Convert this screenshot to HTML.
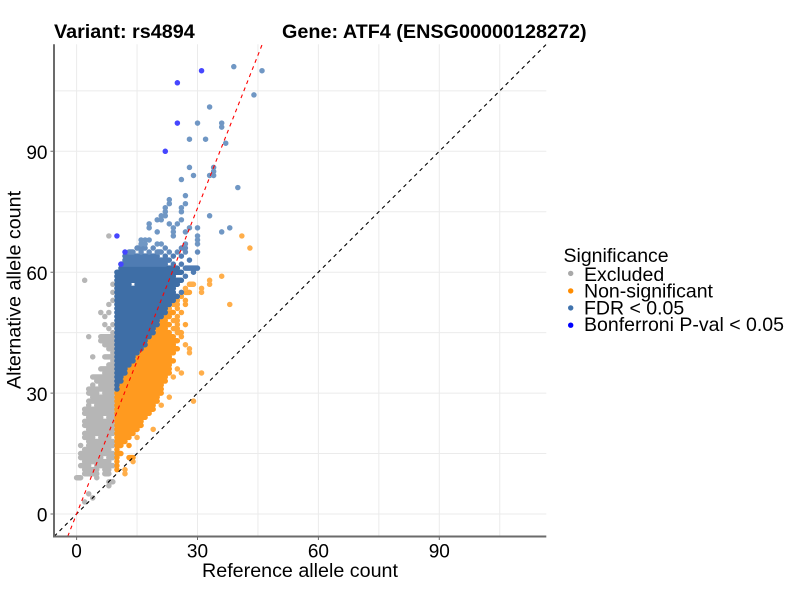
<!DOCTYPE html>
<html>
<head>
<meta charset="utf-8">
<style>
html,body{margin:0;padding:0;background:#fff;}
svg{display:block;}
text{font-family:"Liberation Sans",Arial,sans-serif;fill:#000;}
</style>
</head>
<body>
<svg width="800" height="600" viewBox="0 0 800 600" xmlns="http://www.w3.org/2000/svg">
<rect width="800" height="600" fill="#fff"/>
<!-- grid -->
<g stroke="#ebebeb" stroke-width="1" fill="none">
<path d="M76.6 44.3V536.3M137.05 44.3V536.3M197.5 44.3V536.3M257.95 44.3V536.3M318.4 44.3V536.3M378.85 44.3V536.3M439.3 44.3V536.3M499.75 44.3V536.3"/>
<path d="M54 514H546.3M54 453.55H546.3M54 393.1H546.3M54 332.65H546.3M54 272.2H546.3M54 211.75H546.3M54 151.3H546.3M54 90.85H546.3"/>
</g>
<!-- points -->
<g transform="translate(76.6 514) scale(4.03 -4.03)" fill="none" stroke-linecap="round" stroke-width="1.36">
<path stroke="#b6b6b6" d="M8 69h.01M2 58h.01M9 57h.01M9 55h.01M9 53h.01M8 52h.01M6 50h.01M8 50h.01M7 49h.01M7 47h.01M9 47h.01M8 46h.01M9 45h.01M3 44h.01M6 44H9M6 43H9M7 42H9M8 41H9M9 40h.01M4 39h.01M7 39H9M9 38h.01M8 37H9M6 36H9M7 35H9M4 34H9M5 33H9M4 32h.01M6 32H9M3 31H9M3 30H5M7 30H9M4 29H9M3 28H9M3 27h.01M5 27H9M2 26H9M2 25H9M3 24H6M8 24H9M2 23H9M2 22H9M3 21H9M2 20H9M2 19H4M6 19H8M3 18H9M1 17h.01M3 17H9M2 16H8M1 15H9M1 14H6M8 14H9M2 13H8M1 12H3M5 12H9M2 11H5M7 11H8M2 10H5M7 10H8M0 9H1M5 9h.01M8 8H9M8 7h.01M3 5h.01M4 4h.01M2 3h.01"/>
<path stroke="#ff9a1f" d="M10 11h.01M10 12h.01M10 13h.01M10 14h.01M13 14H14M10 15H11M10 16h.01M10 17H11M13 17h.01M10 18H12M10 19H13M10 20H14M10 21H15M10 22H16M10 23H16M10 24H17M10 25H18M10 26H19M10 27H19M10 28H20M10 29H20M10 30H21M11 31H21M11 32H21M12 33H22M12 34H22M13 35H23M13 36H23M14 37H23M15 38H24M15 39H23M16 40H24M17 41H25M18 42H24M18 43H25M19 44H24M20 45H23M20 46H22M21 47H23M21 48H22M22 49H23M23 50H24"/>
<path stroke="#ffa638" d="M26 44h.01M25 45H26M24 46H25M25 47h.01M27 47h.01M24 48H25M25 49h.01M26 50h.01M23 51h.01M25 51h.01M24 52H25M27 52h.01M25 53h.01M27 53h.01M26 54h.01M27 55H28"/>
<path stroke="#ffae4a" d="M12 10h.01M12 11h.01M14 13h.01M15 19h.01M19 21h.01M21 27h.01M29 28h.01M23 29h.01M24 34h.01M26 35h.01M31 35h.01M25 36h.01M28 40h.01M28 41h.01M27 42h.01M38 52h.01M31 55h.01M27 56h.01M31 56h.01M28 57H29M33 57h.01M33 58h.01M36 59h.01M43 66h.01M41 69h.01"/>
<path stroke="#3e6ea6" d="M10 31h.01M10 32h.01M10 33H11M10 34H11M10 35H12M10 36H12M10 37H13M10 38H14M10 39H14M10 40H15M10 41H16M10 42H17M10 43H17M10 44H18M10 45H19M10 46H19M10 47H20M10 48H20M10 49H21M10 50H22M10 51H22M10 52H23M10 53H24M10 54H25M10 55H24M10 56H24M10 57H13M15 57H25M10 58H26M10 59H24M10 60H26M11 61H25"/>
<path stroke="#4f7cb3" d="M26 55h.01M27 59h.01M29 60h.01M27 61H30M11 62H22M24 62h.01M26 62h.01M12 63H23M28 63h.01M12 64H20M22 64h.01M24 64h.01M26 64h.01"/>
<path stroke="#648cbd" d="M13 65H14M16 65h.01M18 65h.01M20 65H21M23 65h.01M25 65h.01M27 65h.01M30 65h.01M15 66H17M19 66h.01M22 66h.01M26 66H27"/>
<path stroke="#7097c4" d="M46 110h.01M39 111h.01M44 104h.01M33 101h.01M30 97h.01M36 97h.01M36 96h.01M28 93h.01M32 93h.01M37 92h.01M28 86h.01M34 86h.01M34 85h.01M29 84h.01M33 84h.01M34 84h.01M26 83h.01M40 81h.01M27 79h.01M23 78h.01M23 77h.01M27 77h.01M26 76h.01M22 76h.01M26 75h.01M22 75h.01M21 74h.01M22 74h.01M33 74h.01M20 73h.01M21 73h.01M26 73h.01M18 72h.01M23 72h.01M25 72h.01M18 71h.01M24 71h.01M28 71h.01M30 71h.01M38 71h.01M20 70h.01M24 70h.01M27 70h.01M36 70h.01M24 69h.01M30 69h.01M30 68h.01M30 67h.01M16 68h.01M17 68h.01M18 68h.01M16 67h.01M17 67h.01M20 67h.01M21 67h.01M27 67h.01"/>
<path stroke="#4646ff" d="M31 110h.01M25 107h.01M25 97h.01M22 90h.01M10 69h.01M12 65h.01M11 62h.01"/>
</g>
<!-- reference lines -->
<line x1="54.2" y1="536.3" x2="546.3" y2="44.3" stroke="#000" stroke-width="1.1" stroke-dasharray="3.8 3.8"/>
<line x1="67.76" y1="536.3" x2="262.25" y2="44.3" stroke="#ff0000" stroke-width="1.1" stroke-dasharray="3.8 3.8"/>
<!-- axes -->
<g stroke="#6b6b6b" fill="none">
<path d="M54 44.3V537.5M53 536.5H546.3" stroke-width="2"/>
<path d="M50.5 514H54M50.5 393.1H54M50.5 272.2H54M50.5 151.3H54M76.6 537V540M197.5 537V540M318.4 537V540M439.3 537V540" stroke-width="1"/>
</g>
<!-- tick labels -->
<g font-size="19" text-anchor="end">
<text x="47.5" y="521.7">0</text>
<text x="47.5" y="400.8">30</text>
<text x="47.5" y="279.9">60</text>
<text x="47.5" y="159">90</text>
</g>
<g font-size="19" text-anchor="middle">
<text x="76.6" y="557.3">0</text>
<text x="197.5" y="557.3">30</text>
<text x="318.4" y="557.3">60</text>
<text x="439.3" y="557.3">90</text>
</g>
<!-- axis titles -->
<text x="300" y="577" font-size="19.7" text-anchor="middle">Reference allele count</text>
<text transform="translate(20.5 290) rotate(-90)" font-size="19.7" text-anchor="middle">Alternative allele count</text>
<!-- title -->
<text x="54" y="38" font-size="19.8" font-weight="bold">Variant: rs4894</text>
<text x="282" y="38" font-size="19.8" font-weight="bold">Gene: ATF4 (ENSG00000128272)</text>
<!-- legend -->
<text x="563.5" y="262" font-size="19.5">Significance</text>
<circle cx="570.7" cy="273.4" r="2.7" fill="#a9a9a9"/>
<circle cx="570.7" cy="290.9" r="2.7" fill="#ff8c00"/>
<circle cx="570.7" cy="307.9" r="2.7" fill="#4073ad"/>
<circle cx="570.7" cy="325.2" r="2.7" fill="#0000ff"/>
<g font-size="19.5">
<text x="584" y="281">Excluded</text>
<text x="584" y="297.7">Non-significant</text>
<text x="584" y="314.4">FDR &lt; 0.05</text>
<text x="584" y="331.1">Bonferroni P-val &lt; 0.05</text>
</g>
</svg>
</body>
</html>
